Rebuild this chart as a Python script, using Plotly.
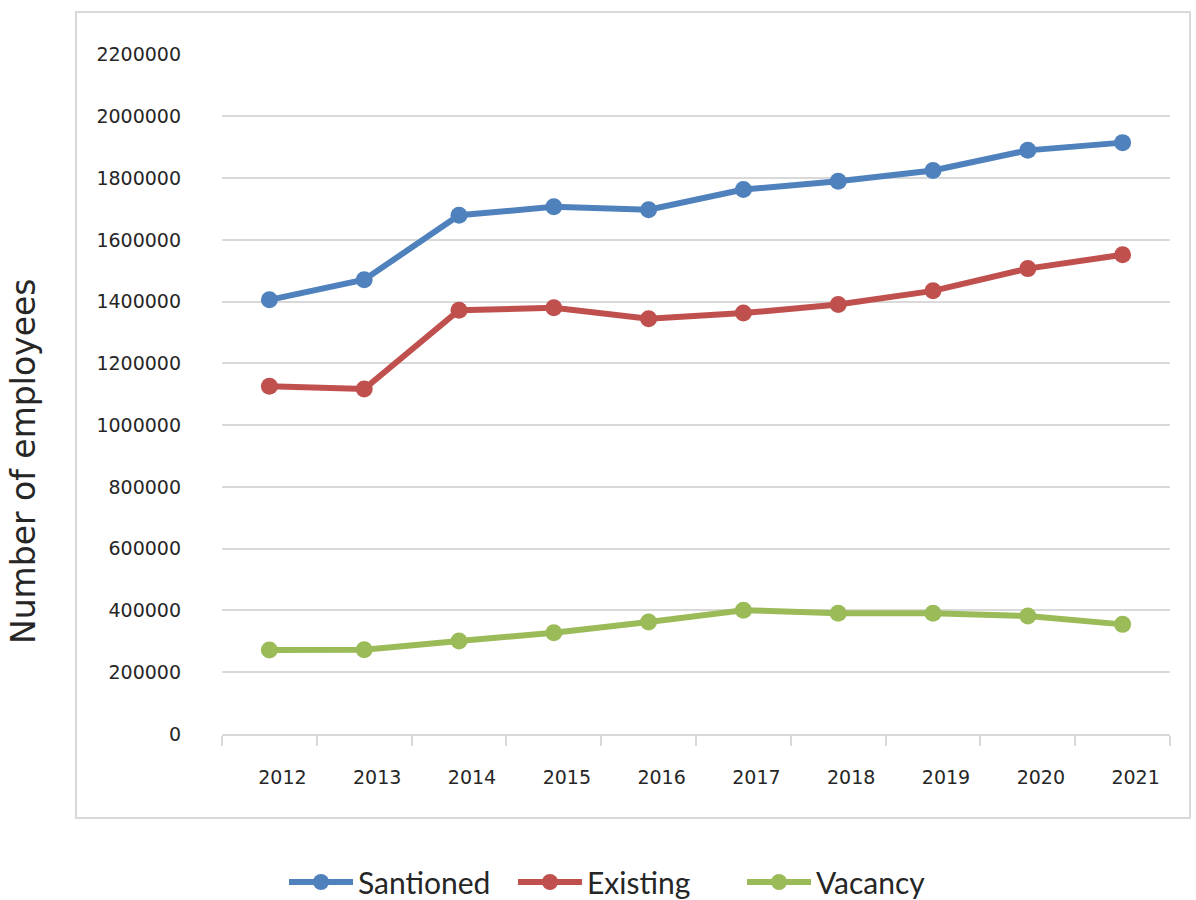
import plotly.graph_objects as go

# data
years = ["2012", "2013", "2014", "2015", "2016", "2017", "2018", "2019", "2020", "2021"]
santioned = [1406000, 1471000, 1680000, 1707000, 1698000, 1763000, 1790000, 1825000, 1890000, 1915000]
existing = [1126000, 1117000, 1372000, 1380000, 1345000, 1363000, 1391000, 1435000, 1507000, 1552000]
vacancy = [272000, 273000, 301000, 328000, 363000, 401000, 391000, 391000, 382000, 355000]
y_ticks = [0, 200000, 400000, 600000, 800000, 1000000, 1200000, 1400000,
           1600000, 1800000, 2000000, 2200000]

W, H = 1196, 900
L, R, T, B = 222, 26, 54, 166
pw, ph = W - L - R, H - T - B

fig = go.Figure()

series = [
    ("Santioned", santioned, "#4F81BD"),
    ("Existing", existing, "#C0504D"),
    ("Vacancy", vacancy, "#9BBB59"),
]
for name, vals, col in series:
    fig.add_trace(
        go.Scatter(
            x=years,
            y=vals,
            name=name,
            mode="lines+markers",
            line=dict(color=col, width=6),
            marker=dict(color=col, size=17),
        )
    )

# outer chart border
fig.add_shape(
    type="rect",
    xref="paper", yref="paper",
    x0=(76 - L) / pw, x1=(1190 - L) / pw,
    y0=-(818 - (H - B)) / ph, y1=((H - B) - 12) / ph,
    line=dict(color="#d9d9d9", width=2),
    layer="below",
)

# y axis title
fig.add_annotation(
    text="Number of employees",
    xref="paper", yref="paper",
    x=(23 - L) / pw, y=((H - B) - 462) / ph,
    xanchor="center", yanchor="middle",
    textangle=-90,
    showarrow=False,
    font=dict(family="DejaVu Sans", size=33, color="#262626"),
)

fig.update_xaxes(
    type="category",
    range=[-0.5, 9.5],
    showline=True,
    linecolor="#d9d9d9",
    linewidth=2,
    ticks="outside",
    tickson="boundaries",
    ticklen=10,
    tickcolor="#d9d9d9",
    tickwidth=2,
    showgrid=False,
    ticklabelstandoff=25,
    ticklabelshift=13,
    tickfont=dict(family="DejaVu Sans", size=19, color="#262626"),
)

fig.update_yaxes(
    range=[0, 2202000],
    tickvals=y_ticks,
    ticktext=[str(v) for v in y_ticks],
    showgrid=True,
    gridcolor="#d9d9d9",
    gridwidth=2,
    zeroline=False,
    showline=False,
    ticklabelstandoff=40,
    tickfont=dict(family="DejaVu Sans", size=19, color="#262626"),
)

fig.update_layout(
    width=W,
    height=H,
    margin=dict(l=L, r=R, t=T, b=B, autoexpand=False),
    paper_bgcolor="white",
    plot_bgcolor="white",
    showlegend=True,
    legend=dict(
        orientation="h",
        x=(284 - L) / pw,
        xanchor="left",
        y=-(882 - (H - B)) / ph,
        yanchor="middle",
        font=dict(family="Lato", size=30, color="#262626"),
        itemwidth=64,
        entrywidth=150,
        entrywidthmode="pixels",
    ),
)

fig.write_html(
    "out.html",
    config={"displayModeBar": False},
    post_script="document.body.style.margin='0';",
)
